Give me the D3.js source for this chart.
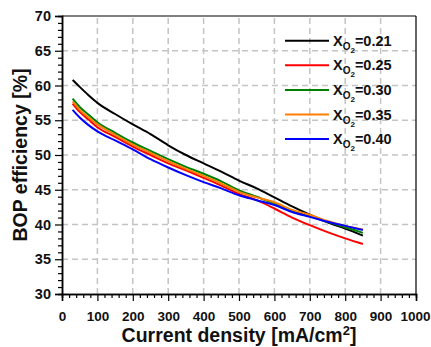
<!DOCTYPE html>
<html>
<head>
<meta charset="utf-8">
<script src="https://cdn.jsdelivr.net/npm/d3@7"></script>
<style>
  body { margin: 0; background: #fff; }
  svg text { font-family: "Liberation Sans", Arial, sans-serif; font-weight: 700; fill: #111; }
</style>
</head>
<body>
<svg id="chart" width="431" height="347"></svg>
<script>
var currentDensity = [30, 50, 75, 100, 150, 200, 250, 300, 350, 400, 450, 500, 550, 600, 650, 700, 750, 800, 850];
var eff021 = [60.8, 59.8, 58.6, 57.5, 55.9, 54.4, 53.0, 51.4, 50.0, 48.8, 47.6, 46.3, 45.2, 43.9, 42.6, 41.4, 40.3, 39.4, 38.4];
var eff025 = [57.4, 56.2, 55.1, 54.0, 52.6, 51.2, 50.0, 48.8, 47.8, 46.7, 45.6, 44.4, 43.5, 42.3, 41.0, 39.9, 38.9, 38.0, 37.2];
var eff030 = [58.1, 56.9, 55.8, 54.7, 53.2, 51.8, 50.6, 49.4, 48.3, 47.3, 46.2, 44.9, 44.0, 43.0, 42.0, 41.2, 40.4, 39.6, 38.8];
var eff035 = [57.7, 56.5, 55.4, 54.4, 52.9, 51.5, 50.3, 49.1, 48.0, 47.0, 45.9, 44.7, 43.9, 43.2, 42.1, 41.4, 40.5, 39.8, 39.3];
var eff040 = [56.5, 55.4, 54.3, 53.4, 52.1, 50.8, 49.4, 48.2, 47.1, 46.1, 45.2, 44.2, 43.5, 42.8, 41.8, 41.1, 40.4, 39.8, 39.2];
var seriesNames = ["0.21", "0.25", "0.30", "0.35", "0.40"];
var seriesColors = ["#000000", "#ff0000", "#008000", "#ff7f00", "#0000ff"];
var xTicks = [0, 100, 200, 300, 400, 500, 600, 700, 800, 900, 1000];
var yTicks = [30, 35, 40, 45, 50, 55, 60, 65, 70];

var allSeries = [eff021, eff025, eff030, eff035, eff040];

var MARGIN = {left: 62, right: 15, top: 16, bottom: 53};
var W = 431, H = 347;

var svg = d3.select("#chart");

var xScale = d3.scaleLinear().domain([0, 1000]).range([MARGIN.left, W - MARGIN.right]);
var yScale = d3.scaleLinear().domain([30, 70]).range([H - MARGIN.bottom, MARGIN.top]);

// grid
var grid = svg.append("g").attr("stroke", "#c4c4c4").attr("stroke-width", 1.5).attr("stroke-dasharray", "6,4");
grid.selectAll(".vg").data(xTicks.slice(1, -1)).enter().append("line")
  .attr("x1", d => xScale(d)).attr("x2", d => xScale(d))
  .attr("y1", yScale(30)).attr("y2", yScale(70));
grid.selectAll(".hg").data(yTicks.slice(1, -1)).enter().append("line")
  .attr("x1", xScale(0)).attr("x2", xScale(1000))
  .attr("y1", d => yScale(d)).attr("y2", d => yScale(d));

// frame top/right
svg.append("line").attr("x1", xScale(0)).attr("x2", xScale(1000)).attr("y1", yScale(70)).attr("y2", yScale(70))
  .attr("stroke", "#000").attr("stroke-width", 1.2);
svg.append("line").attr("x1", xScale(1000)).attr("x2", xScale(1000)).attr("y1", yScale(70)).attr("y2", yScale(30))
  .attr("stroke", "#000").attr("stroke-width", 1.2);

// axes
var xMinor = d3.range(0, 1001, 20).filter(d => d % 100 !== 0);
var yMinor = d3.range(30, 71, 1).filter(d => d % 5 !== 0);

var xAxisG = svg.append("g").attr("transform", "translate(0," + yScale(30) + ")");
xAxisG.call(d3.axisBottom(xScale).tickValues(xMinor).tickSize(4).tickFormat(""));
xAxisG.append("g").attr("class", "xmaj").call(d3.axisBottom(xScale).tickValues(xTicks).tickSize(7).tickPadding(10).tickFormat(d3.format("d")));

var yAxisG = svg.append("g").attr("transform", "translate(" + xScale(0) + ",0)");
yAxisG.call(d3.axisLeft(yScale).tickValues(yMinor).tickSize(4).tickFormat(""));
yAxisG.append("g").call(d3.axisLeft(yScale).tickValues(yTicks).tickSize(7).tickPadding(4).tickFormat(d3.format("d")));

svg.selectAll(".domain").attr("stroke", "#000").attr("stroke-width", 1.5);
svg.selectAll(".tick line").attr("stroke", "#000").attr("stroke-width", 1.2);
svg.selectAll(".tick text").attr("font-size", 14.5);
svg.selectAll(".xmaj .tick text").attr("font-size", 13.5);
// keep the last label inside the window
svg.selectAll(".xmaj .tick text").filter(d => d === 1000).attr("text-anchor", "end").attr("dx", 14);

// lines
var line = d3.line()
  .curve(d3.curveMonotoneX)
  .x(function(d, i) { return xScale(currentDensity[i]); })
  .y(function(d) { return yScale(d); });

svg.append("g").selectAll("path").data(allSeries).enter().append("path")
  .attr("d", d => line(d))
  .attr("fill", "none")
  .attr("stroke", (d, i) => seriesColors[i])
  .attr("stroke-width", 2);

// legend
var legend = svg.append("g");
seriesNames.forEach(function(name, i) {
  var y = 40.7 + i * 24.6;
  legend.append("line").attr("x1", 285).attr("x2", 329).attr("y1", y).attr("y2", y)
    .attr("stroke", seriesColors[i]).attr("stroke-width", 2);
  var t = legend.append("text").attr("x", 333).attr("y", y + 5).attr("font-size", 14.5);
  t.append("tspan").text("X");
  t.append("tspan").attr("font-size", 10).attr("dy", 4).text("O");
  t.append("tspan").attr("font-size", 8).attr("dy", 3).text("2");
  t.append("tspan").attr("dy", -7).text("=" + name);
});

// axis titles
var xt = svg.append("text").attr("x", (xScale(0) + xScale(1000)) / 2).attr("y", 342)
  .attr("text-anchor", "middle").attr("font-size", 19.5);
xt.append("tspan").text("Current density [mA/cm");
xt.append("tspan").attr("font-size", 13).attr("dy", -7).text("2");
xt.append("tspan").attr("dy", 7).text("]");

svg.append("text").attr("transform", "translate(27," + (yScale(50)) + ") rotate(-90)")
  .attr("text-anchor", "middle").attr("font-size", 19.5)
  .text("BOP efficiency [%]");
</script>
</body>
</html>
